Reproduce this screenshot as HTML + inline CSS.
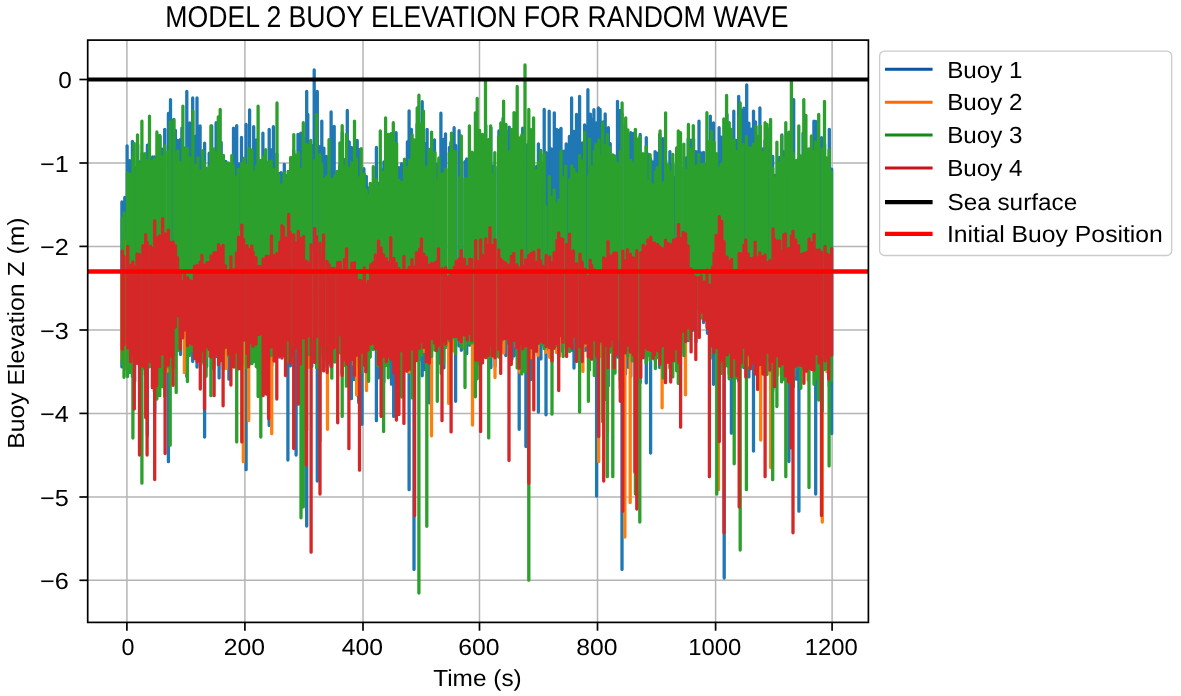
<!DOCTYPE html>
<html><head><meta charset="utf-8"><style>
html,body{margin:0;padding:0;background:#fff;}
svg{display:block;}
text{font-family:"Liberation Sans", sans-serif;fill:#000;text-rendering:geometricPrecision;}
svg{will-change:transform;}
</style></head><body>
<svg width="1181" height="696" viewBox="0 0 1181 696">
<rect width="1181" height="696" fill="#fff"/>
<defs><clipPath id="ax"><rect x="87.7" y="40.1" width="780.7" height="582.3"/></clipPath></defs>
<g stroke="#b4b4b4" stroke-width="1.5"><line x1="126.9" y1="40.1" x2="126.9" y2="622.4"/><line x1="244.9" y1="40.1" x2="244.9" y2="622.4"/><line x1="363.0" y1="40.1" x2="363.0" y2="622.4"/><line x1="479.5" y1="40.1" x2="479.5" y2="622.4"/><line x1="597.5" y1="40.1" x2="597.5" y2="622.4"/><line x1="715.6" y1="40.1" x2="715.6" y2="622.4"/><line x1="832.1" y1="40.1" x2="832.1" y2="622.4"/><line x1="87.7" y1="79.5" x2="868.4" y2="79.5"/><line x1="87.7" y1="163.0" x2="868.4" y2="163.0"/><line x1="87.7" y1="246.4" x2="868.4" y2="246.4"/><line x1="87.7" y1="330.0" x2="868.4" y2="330.0"/><line x1="87.7" y1="413.4" x2="868.4" y2="413.4"/><line x1="87.7" y1="497.0" x2="868.4" y2="497.0"/><line x1="87.7" y1="580.3" x2="868.4" y2="580.3"/></g>
<g clip-path="url(#ax)" fill="none" stroke-width="3.3" stroke-linejoin="round" stroke-linecap="round">
<path stroke="#1f77b4" d="M121.9 366.9V201.9M124.8 365.8V197.5M127.1 363.2V145.8M129.7 371.9V160.7M132.4 376.4V141.5M134.7 381.2V167.4M137.7 363.0V144.7M139.6 387.0V162.0M142.1 359.1V153.5M145.4 375.1V165.2M147.4 435.3V145.1M149.7 360.4V166.5M152.6 363.9V156.9M154.7 412.3V157.0M157.2 381.8V166.1M160.0 355.9V136.3M162.5 363.3V149.1M164.7 360.8V129.3M168.4 461.7V113.5M170.5 365.8V99.6M173.5 346.2V119.9M175.4 326.0V130.3M177.7 328.1V140.5M180.5 354.4V139.4M181.9 330.6V128.1M184.8 344.1V148.5M186.8 376.5V91.4M189.7 333.1V122.9M192.7 361.4V98.0M195.2 352.8V136.4M197.0 367.1V98.0M200.1 357.0V125.9M202.1 354.6V155.6M204.6 437.0V143.2M206.7 366.6V172.2M209.2 355.7V153.2M211.7 349.4V126.0M213.3 361.1V175.8M216.1 356.6V122.7M219.1 377.9V167.0M221.2 353.4V142.5M223.4 369.1V165.7M225.8 348.2V161.3M228.9 379.2V184.3M231.3 353.3V184.2M233.5 340.7V128.2M236.7 330.9V125.6M239.1 365.3V163.8M241.5 352.7V137.4M244.2 342.9V174.8M246.1 469.7V124.4M249.6 363.9V109.8M252.1 336.2V163.2M253.7 350.5V126.7M256.5 348.0V139.9M258.0 367.7V161.4M260.4 357.1V162.6M262.9 335.4V133.1M265.9 359.0V165.8M269.2 425.4V129.3M271.8 366.1V149.6M273.4 356.1V126.7M276.8 356.8V153.8M279.3 357.1V173.6M281.0 348.9V172.6M284.3 355.1V164.3M286.1 351.2V175.7M287.9 460.1V176.9M290.4 365.8V170.4M293.7 353.3V151.0M296.1 455.1V164.3M298.0 349.0V134.3M300.8 353.8V133.2M303.1 349.9V137.7M306.7 526.1V91.4M307.8 344.6V114.4M311.8 366.5V145.5M314.2 361.7V69.9M317.3 481.0V91.4M319.8 440.7V146.7M321.8 341.1V121.1M323.9 367.3V148.2M326.5 358.7V156.5M329.2 364.5V174.6M331.1 367.0V112.0M334.2 354.2V126.5M337.3 348.0V174.3M339.8 349.1V165.4M342.2 373.3V132.6M344.5 337.2V159.7M347.3 340.2V110.4M349.2 359.2V141.8M351.4 398.7V147.3M354.2 379.5V171.1M357.2 394.9V140.5M358.7 402.6V149.4M362.0 424.3V171.6M363.9 354.9V168.7M366.3 372.6V176.3M368.2 367.6V187.9M370.6 348.6V196.5M373.1 345.8V191.1M376.4 420.7V147.5M378.4 377.8V183.3M380.7 355.8V168.9M383.9 382.0V161.8M386.3 356.2V168.8M389.2 366.9V162.9M391.5 384.2V167.3M393.7 416.4V152.1M396.1 336.0V132.6M398.9 335.8V167.6M401.6 342.3V163.7M404.2 362.9V176.1M407.4 371.1V142.0M409.1 489.7V111.0M411.4 349.8V129.3M414.0 569.4V150.3M417.1 347.0V124.2M418.9 360.4V154.4M422.2 375.8V101.7M424.5 369.7V143.3M427.1 353.9V129.3M429.4 402.8V154.7M432.4 336.0V144.5M434.5 341.4V139.8M437.4 329.8V164.1M439.2 363.2V159.1M440.9 339.9V113.2M443.9 367.9V139.2M445.5 347.6V134.0M449.5 365.8V147.5M450.9 350.6V142.4M454.1 346.5V127.7M455.6 401.3V145.5M459.1 345.9V130.7M461.3 350.3V162.8M464.9 349.1V161.6M466.7 353.7V158.9M469.7 345.2V165.8M472.9 335.7V161.9M474.6 348.1V153.5M477.9 349.3V148.0M479.6 364.3V144.4M483.3 334.4V150.9M485.8 353.0V125.5M487.9 354.1V160.5M490.9 367.7V127.7M492.7 347.8V166.2M495.1 366.3V166.9M498.9 344.8V131.0M500.4 350.4V149.2M503.0 335.2V118.3M505.8 355.5V130.6M509.2 340.1V127.1M512.0 359.0V130.6M514.3 355.8V157.5M516.7 349.6V161.5M519.2 429.3V148.1M521.7 353.6V161.6M522.7 333.4V128.1M525.9 446.6V144.8M529.0 355.5V141.4M531.2 379.4V137.5M533.3 356.4V152.3M536.6 331.9V166.5M538.4 412.1V143.8M540.9 358.9V162.3M544.2 345.2V109.5M546.0 414.8V152.6M549.2 349.8V111.2M551.2 349.0V148.8M554.3 342.0V112.8M556.6 334.7V129.3M559.3 341.7V130.1M561.0 351.0V128.4M563.9 342.5V151.2M566.2 348.4V144.0M569.4 347.5V136.5M571.6 350.3V98.0M574.0 368.0V131.5M576.5 325.3V114.5M579.6 336.0V96.3M582.6 349.7V143.0M584.6 350.4V125.0M587.9 351.0V89.7M590.4 355.5V114.1M591.6 343.0V119.3M593.9 333.3V109.7M596.6 496.1V122.8M598.4 348.1V107.9M600.1 343.2V109.5M603.2 355.1V121.8M605.2 335.8V113.9M608.4 385.7V127.7M610.2 339.6V143.7M613.0 343.0V165.0M614.5 335.6V155.8M617.5 357.1V101.3M620.3 379.9V110.3M622.0 569.4V113.8M625.5 373.9V125.3M628.4 367.3V134.5M630.8 376.2V132.6M633.3 350.3V133.3M635.0 351.9V133.2M637.5 349.6V161.3M640.2 382.8V134.3M642.9 349.2V164.0M646.3 382.9V137.6M648.0 350.8V154.1M650.6 453.0V158.9M653.0 352.4V161.9M655.1 360.1V151.6M657.0 356.5V153.2M659.7 367.5V134.3M662.9 361.9V138.7M665.6 360.2V160.4M667.8 348.8V169.9M669.9 359.6V151.6M673.1 361.4V164.7M675.6 359.0V177.5M678.7 339.6V155.5M680.4 365.3V138.4M683.9 340.0V167.8M686.3 329.0V157.8M688.2 340.7V139.0M691.0 330.6V140.1M693.6 330.0V138.8M696.0 341.8V151.6M699.0 309.6V121.1M700.8 312.6V152.8M703.5 322.5V152.4M707.5 333.3V151.1M710.3 329.2V116.1M712.3 346.7V140.4M713.5 384.3V122.8M716.8 341.3V156.5M719.1 368.1V127.7M721.4 367.3V137.2M724.2 578.0V145.4M727.0 350.8V114.5M728.4 361.9V134.4M731.4 433.2V139.3M733.8 411.8V111.2M736.2 352.6V140.3M738.7 381.0V96.3M740.7 363.3V109.8M743.9 367.7V108.2M746.7 359.9V84.8M748.9 376.9V123.1M751.4 358.6V129.2M753.5 451.0V111.2M755.5 363.6V121.8M758.4 359.0V152.0M759.9 355.3V108.0M762.9 355.8V148.9M765.0 374.2V140.7M767.2 354.0V128.7M769.8 360.9V148.0M772.7 391.1V156.5M775.0 371.3V175.5M777.2 363.9V177.6M779.5 358.7V157.5M781.9 352.2V134.9M783.8 363.4V152.0M785.8 360.2V159.4M788.9 461.6V132.5M791.2 369.9V155.9M793.7 353.2V99.6M796.2 379.1V161.0M798.9 511.2V158.6M800.6 369.3V172.3M803.0 366.5V133.1M806.6 354.9V165.3M808.3 352.4V168.4M811.3 354.4V160.9M813.9 355.6V121.1M815.7 494.0V121.5M819.2 384.6V142.7M821.5 387.3V137.7M824.6 348.1V144.0M827.2 343.5V163.4M829.3 386.3V129.3M831.7 433.6V169.1"/>
<path stroke="#ff7f0e" d="M121.9 359.0V275.2M125.0 369.1V241.1M127.2 349.0V267.9M130.7 352.9V261.8M132.4 365.8V273.6M134.9 346.4V272.7M137.9 357.5V262.8M139.6 366.6V273.7M143.0 366.2V253.1M145.6 366.0V256.5M148.2 355.8V258.5M150.0 349.0V247.4M151.8 348.4V266.8M154.1 373.9V245.8M156.5 366.8V251.8M159.5 370.5V228.3M162.6 359.6V231.5M165.1 360.7V226.3M167.7 371.0V237.3M170.0 358.8V251.3M173.3 367.8V261.1M175.3 324.5V263.6M177.8 342.5V276.6M180.4 328.4V282.2M183.0 312.9V292.6M184.4 372.6V293.7M187.5 325.4V307.6M188.9 346.4V299.4M192.2 334.9V302.2M195.3 345.8V300.8M197.5 341.2V275.3M199.5 330.5V280.1M202.1 334.1V279.4M204.4 341.5V288.8M207.0 356.2V287.7M208.9 344.7V293.0M210.9 345.5V273.5M214.1 349.3V277.9M215.9 354.1V256.4M218.4 343.0V263.1M220.6 358.4V260.2M222.8 343.8V258.9M226.1 368.4V270.3M228.8 353.5V283.5M231.0 338.9V295.0M234.4 346.2V284.7M236.5 337.2V276.2M238.7 337.8V232.7M241.0 341.8V231.6M243.3 461.7V240.0M246.3 340.2V244.2M248.7 420.5V242.8M251.5 336.3V257.2M253.6 344.0V251.0M256.5 337.1V268.6M258.2 336.0V288.5M260.8 328.6V259.6M263.0 348.3V283.1M265.7 334.8V274.7M268.2 388.2V260.7M271.7 433.7V255.9M273.7 352.2V259.0M276.7 346.1V265.3M279.3 351.7V268.9M281.3 329.8V242.8M283.5 342.5V241.9M286.4 330.9V246.9M288.4 323.3V247.7M290.1 322.9V251.1M293.0 319.7V261.1M295.7 335.3V254.0M298.5 351.9V246.2M300.4 353.5V237.4M303.2 342.0V240.5M306.6 356.3V231.4M308.6 367.3V266.1M310.8 338.5V251.8M314.5 349.7V247.6M316.5 346.1V258.1M320.0 352.7V263.2M322.2 354.0V277.4M323.5 347.5V285.6M327.5 429.3V282.0M329.9 347.7V254.1M331.2 348.7V288.4M334.7 351.4V277.2M337.1 355.8V268.3M339.3 347.3V250.3M341.7 355.5V267.7M344.1 353.0V281.8M346.9 336.3V287.1M348.9 331.5V283.6M352.2 337.3V294.0M353.9 364.5V282.8M356.6 394.8V294.0M358.8 359.3V273.1M361.6 357.1V287.0M363.9 352.1V280.5M366.5 390.5V304.8M368.4 353.6V291.6M369.8 357.1V291.8M373.0 347.5V276.9M376.1 335.0V260.3M378.7 346.5V255.3M381.3 344.5V253.7M383.6 366.2V245.1M386.0 339.1V244.6M388.1 354.9V256.3M391.4 338.2V255.7M393.5 348.4V254.9M396.3 339.1V265.4M399.1 341.2V272.3M401.5 343.1V268.3M403.5 337.2V263.9M407.2 336.3V277.8M409.3 372.1V267.3M412.3 340.0V289.8M414.6 334.3V266.6M416.2 350.0V267.4M418.6 353.4V271.8M422.5 339.6V248.7M424.2 351.4V259.5M426.2 343.3V263.5M429.3 332.3V268.2M431.5 435.8V253.8M434.9 326.0V263.3M437.1 328.6V272.7M439.5 344.7V275.4M441.6 336.6V271.2M443.5 338.1V263.5M446.4 346.7V288.9M448.7 403.4V284.9M451.7 324.4V272.2M453.4 350.8V285.5M455.8 331.0V290.3M459.1 330.5V270.6M461.2 343.5V256.3M464.9 348.1V262.5M467.0 331.0V266.9M470.0 337.9V277.7M472.5 425.0V276.9M475.2 347.0V273.5M477.7 356.1V262.5M479.7 357.0V266.2M482.8 340.8V251.9M485.9 348.3V271.6M488.5 344.1V266.4M490.7 344.6V257.2M492.7 356.6V266.6M495.0 377.6V251.0M498.6 330.1V264.8M500.4 345.7V280.5M503.7 353.0V267.4M505.5 334.8V260.2M508.6 334.2V278.8M511.6 332.0V266.0M514.9 331.3V273.4M516.3 346.8V283.8M519.7 372.2V290.2M521.5 344.2V276.7M523.0 346.7V270.6M525.0 334.6V261.7M529.0 335.2V269.1M531.5 357.7V254.1M533.7 345.8V265.8M535.9 341.3V270.2M538.0 355.4V262.2M541.1 331.3V283.9M543.9 336.4V292.8M545.8 352.3V277.9M549.6 357.3V278.3M551.8 324.3V285.2M553.5 346.3V270.7M556.5 352.5V265.2M559.4 356.2V235.6M561.3 318.6V251.8M563.8 319.4V268.1M565.8 327.3V246.2M569.4 332.6V248.4M571.9 341.6V267.2M573.7 330.0V266.9M577.0 319.4V262.9M579.2 338.0V257.6M582.9 371.4V294.4M584.4 345.7V299.3M587.6 345.8V290.9M590.2 356.1V302.7M591.8 348.6V262.5M594.4 339.9V269.0M596.6 331.0V288.7M598.7 461.6V274.6M600.5 356.4V274.2M603.1 336.3V266.8M605.0 330.8V241.9M607.6 432.1V259.3M609.4 330.7V268.1M612.4 327.1V265.4M614.9 327.5V288.5M617.1 330.0V281.7M619.7 339.6V264.3M622.3 340.4V272.0M624.9 537.1V278.4M627.5 337.2V278.2M630.2 502.6V273.8M632.9 336.7V286.4M635.9 355.9V258.8M637.6 345.2V260.3M640.0 378.9V268.2M643.2 335.5V270.3M645.6 334.9V253.3M647.5 339.9V264.3M649.9 334.2V240.4M652.8 346.5V250.8M654.9 333.3V243.5M657.0 357.9V255.7M660.8 363.5V259.6M662.1 407.8V242.4M665.4 356.3V250.8M668.4 341.9V255.6M669.8 346.2V262.4M672.8 351.6V264.0M676.0 335.2V254.2M678.4 344.6V249.3M681.0 346.1V253.1M683.6 332.0V255.8M685.5 394.8V252.0M687.6 316.0V261.2M691.2 301.5V276.2M693.0 326.3V285.3M696.1 309.7V270.7M699.4 308.5V291.5M700.8 309.5V271.8M704.5 311.4V291.9M707.1 316.9V293.4M709.7 321.1V265.8M711.7 321.6V279.4M714.0 331.9V242.8M717.1 337.1V252.5M718.5 489.7V231.6M721.1 343.1V223.4M724.4 346.0V260.0M727.1 337.8V270.2M728.9 373.5V278.0M731.4 342.8V279.4M734.7 365.2V272.4M736.3 357.1V277.2M739.0 373.1V269.8M741.0 353.4V266.4M743.5 355.2V264.2M746.2 356.8V261.3M748.8 364.8V273.3M751.4 350.5V271.8M753.1 354.9V265.5M755.5 346.6V273.8M757.7 352.3V278.5M760.7 440.1V268.6M762.6 353.3V274.8M764.8 344.3V277.4M767.6 356.7V285.3M770.7 467.5V257.8M771.9 353.5V263.9M774.2 363.9V248.0M777.8 375.1V245.7M779.4 354.8V248.7M781.4 347.4V251.1M784.3 354.3V255.5M785.3 349.4V257.3M788.1 366.8V254.0M791.5 349.1V250.4M793.7 376.1V258.9M796.2 358.1V267.5M798.5 356.2V276.9M801.3 360.5V282.8M803.0 363.8V272.0M806.2 353.8V276.9M808.2 380.1V276.4M811.2 364.8V251.9M812.8 348.7V254.1M816.1 343.9V257.7M818.9 355.7V254.6M822.3 522.0V254.4M824.3 351.7V263.7M826.9 371.7V260.3M828.5 340.8V251.4M831.1 363.1V256.4"/>
<path stroke="#2ca02c" d="M122.4 364.0V218.3M124.0 377.3V212.8M127.5 376.6V172.9M129.9 372.3V174.2M132.9 438.1V156.7M134.1 362.5V143.5M137.5 352.5V135.0M139.6 383.1V163.5M141.9 483.2V121.1M145.0 368.9V153.6M147.5 357.8V160.7M149.5 366.8V116.1M152.6 387.4V161.4M154.3 391.6V158.8M156.9 399.0V132.0M159.8 395.7V135.5M162.5 386.7V156.8M164.7 396.4V145.7M168.1 366.9V151.8M170.2 445.2V121.9M174.0 354.4V119.4M176.2 392.4V154.2M177.8 350.5V150.8M179.9 329.7V162.6M182.9 322.2V106.2M184.7 330.3V148.2M187.4 381.5V148.4M189.5 355.4V157.7M192.9 350.8V111.2M194.8 353.5V165.1M197.9 341.1V157.8M199.6 354.0V171.0M202.8 361.8V150.7M204.1 364.5V161.8M206.1 376.3V168.4M209.1 349.3V166.7M210.9 395.7V126.0M213.8 368.5V149.0M215.9 341.5V152.9M218.3 349.5V116.8M220.2 354.3V109.5M223.4 352.5V155.4M226.1 340.9V163.4M228.5 355.8V163.0M231.8 331.7V155.6M233.4 349.7V165.7M236.7 441.9V176.8M238.2 355.2V169.4M241.7 363.8V163.5M244.2 336.8V158.2M246.5 367.4V165.3M249.1 363.9V148.5M251.9 363.7V149.9M253.8 361.6V172.3M256.3 366.5V165.8M258.1 396.6V106.2M260.8 437.0V160.3M263.6 386.5V156.6M265.7 349.8V149.6M268.7 360.2V161.8M271.2 355.4V161.1M274.0 344.7V169.3M277.0 350.6V102.9M278.6 346.4V175.0M281.7 350.4V184.9M284.1 352.4V172.8M285.9 346.5V178.6M288.1 361.7V171.5M290.7 345.7V157.4M293.8 356.7V134.6M295.3 344.1V155.0M298.5 358.3V152.5M301.0 517.8V169.3M303.3 506.9V122.7M306.6 430.5V144.3M308.4 354.7V145.7M310.7 346.6V140.5M314.5 349.7V160.7M316.5 367.6V114.5M320.0 373.9V154.7M321.8 352.4V163.8M323.4 355.8V179.1M326.5 359.9V177.0M329.0 351.6V139.7M331.8 378.2V179.1M334.8 362.0V175.7M337.0 346.8V171.4M339.9 352.8V142.8M342.2 416.4V125.6M344.9 365.5V166.6M346.4 386.2V134.3M348.3 349.1V168.0M351.5 357.1V162.7M354.5 363.3V121.1M356.4 335.2V159.0M359.4 368.3V178.0M361.2 372.4V148.6M364.2 350.3V174.2M366.1 364.4V190.0M368.6 381.3V195.6M370.2 357.0V183.4M373.3 349.5V166.6M376.1 347.5V179.7M377.9 365.9V186.5M380.3 352.3V131.0M383.6 431.5V172.2M385.6 365.6V117.8M388.3 377.8V134.4M391.0 353.1V133.6M393.3 340.5V122.7M396.6 369.3V143.3M399.1 344.3V180.4M401.7 397.0V182.4M404.5 353.2V159.2M406.4 345.3V167.4M409.5 341.0V160.1M412.1 397.9V134.6M414.5 357.8V140.0M417.2 343.3V107.9M418.9 593.1V95.2M421.5 355.3V124.0M423.5 343.8V111.2M426.8 526.3V166.8M429.1 344.9V149.3M431.6 356.6V132.1M435.0 350.2V152.6M437.3 401.3V180.1M438.9 344.3V157.9M441.2 373.3V174.4M443.6 363.7V173.7M445.8 346.2V168.9M449.3 340.8V152.8M451.5 328.6V133.1M453.5 337.6V150.9M455.5 353.9V152.0M459.5 325.3V178.1M461.3 347.1V135.9M465.0 387.5V178.7M467.4 335.1V179.2M469.4 343.8V126.0M472.0 342.9V152.1M475.4 396.8V112.8M477.2 378.8V98.3M479.6 362.1V130.3M482.4 353.6V134.3M485.5 348.1V81.5M488.7 437.9V139.5M490.6 356.8V126.0M493.3 348.3V174.3M494.8 353.4V152.6M498.6 357.0V137.0M500.8 342.4V122.9M503.6 338.1V101.1M506.0 333.2V124.4M508.3 343.2V151.8M511.2 344.2V129.3M514.0 341.7V112.6M517.2 367.9V86.4M519.4 367.4V137.9M521.8 373.9V135.0M523.4 348.6V145.5M525.0 371.7V65.0M528.8 580.2V109.5M531.1 341.0V129.7M533.6 353.1V117.8M535.9 339.4V170.3M538.6 343.4V162.1M540.7 343.7V150.5M544.2 348.5V154.0M545.8 332.4V206.7M549.4 347.0V176.7M552.0 414.2V197.5M554.2 348.4V189.8M556.3 345.5V204.1M558.8 336.4V200.1M561.0 335.3V151.1M563.1 356.6V177.9M565.7 342.1V165.8M569.5 351.6V180.0M571.8 345.5V166.0M573.8 331.6V169.5M576.3 351.2V173.7M579.6 412.1V155.3M582.8 345.8V160.7M584.6 338.3V132.6M588.4 401.3V176.5M589.5 370.0V139.0M591.5 356.1V167.1M594.3 375.5V151.3M595.8 338.5V144.4M598.9 344.1V140.0M600.4 332.4V156.5M602.7 421.8V122.7M605.4 399.4V145.8M607.3 476.7V134.3M609.5 352.6V147.1M612.8 476.7V154.8M615.0 373.2V156.5M617.0 340.0V163.3M620.3 388.5V151.4M622.1 357.7V102.9M625.7 343.3V117.8M627.9 355.7V130.0M631.0 331.1V160.3M632.3 360.9V163.9M635.4 494.0V129.3M636.9 339.6V138.8M639.8 522.0V137.1M643.0 352.3V153.6M646.1 363.1V146.5M648.1 355.4V181.1M650.1 360.4V154.6M652.5 350.7V184.8M655.4 368.6V172.2M656.9 357.3V167.7M660.1 353.2V131.0M663.0 378.1V182.9M665.6 369.2V112.8M668.3 358.0V164.9M669.9 368.1V171.7M672.8 376.9V154.3M676.6 370.8V147.9M678.3 383.4V131.0M680.5 353.4V132.6M683.9 355.7V144.1M686.4 337.8V170.5M688.4 338.5V124.4M690.4 329.4V149.4M693.3 308.8V125.6M696.6 308.6V165.8M698.8 301.8V154.5M701.9 318.1V164.7M704.0 316.6V164.1M706.9 316.3V112.7M710.2 358.4V140.7M711.5 326.1V131.5M714.2 335.9V142.4M716.8 494.0V153.6M718.5 353.3V168.7M721.1 373.4V163.8M723.8 350.4V118.9M726.6 365.8V95.5M729.2 378.8V122.6M731.0 356.4V129.3M734.2 463.8V139.7M735.9 378.0V151.3M739.0 358.5V116.8M740.2 550.0V102.9M742.8 366.4V144.3M746.4 489.7V136.7M748.5 355.1V147.7M751.5 358.4V148.0M753.4 344.0V143.9M756.1 357.8V126.5M758.0 342.0V136.3M760.3 345.3V126.0M762.7 357.3V152.6M765.1 359.3V122.7M767.1 374.4V124.4M770.6 354.8V119.4M772.7 479.7V168.4M774.9 358.7V178.1M776.9 406.5V142.1M779.7 350.4V163.0M781.6 381.9V135.9M784.0 379.4V158.2M785.8 476.7V122.7M789.2 377.6V132.2M791.4 390.7V81.5M793.4 386.7V153.7M796.7 367.1V160.4M798.8 361.1V126.0M800.8 388.3V156.0M803.8 368.4V99.6M805.9 358.9V115.3M809.0 487.5V149.0M811.4 348.4V135.9M814.0 384.3V151.4M815.6 378.2V141.9M818.7 400.1V114.5M822.3 411.1V149.0M824.5 369.5V101.3M826.5 368.6V157.9M829.1 465.9V149.8M831.4 380.6V171.9"/>
<path stroke="#d62728" d="M122.3 349.2V251.1M124.0 344.5V256.6M127.7 347.9V246.3M130.7 361.6V265.3M132.8 354.8V262.0M134.3 408.9V266.7M137.1 363.2V254.0M139.5 455.1V254.7M142.9 366.2V245.7M145.7 417.5V234.6M147.1 455.0V242.2M150.5 361.8V246.1M152.4 387.6V248.7M154.7 479.6V220.9M156.7 385.5V238.0M159.6 366.7V235.9M162.6 353.9V218.7M165.1 453.5V234.0M168.3 365.0V230.1M170.7 356.2V242.3M173.1 385.3V242.0M175.5 327.0V245.8M177.5 315.5V257.6M180.2 349.0V271.9M182.7 337.8V281.7M184.5 329.5V272.7M187.5 345.7V277.6M189.1 343.0V280.1M191.9 344.0V281.3M194.5 358.5V266.1M197.2 361.6V265.4M200.3 389.1V262.2M201.9 350.7V255.5M204.5 408.9V265.2M207.0 346.8V262.7M209.3 349.5V262.5M211.0 356.9V255.9M214.1 395.7V252.6M216.2 354.2V252.8M218.6 364.7V244.7M220.6 360.7V247.8M223.1 405.8V245.5M225.4 347.5V265.8M228.6 354.0V271.2M230.9 385.1V256.8M234.0 367.1V269.6M236.4 351.8V253.1M238.6 368.8V237.2M241.8 441.9V225.1M243.6 340.3V239.4M247.0 353.7V245.6M248.5 366.7V249.2M251.8 342.8V245.8M253.1 346.2V252.3M256.0 344.0V257.6M258.8 334.6V266.5M260.2 333.8V266.6M263.1 395.7V259.2M266.2 394.1V256.1M268.6 418.8V256.4M271.4 346.8V235.8M274.1 361.1V255.6M276.8 399.0V253.7M279.8 355.4V242.1M281.9 358.1V225.7M283.3 355.7V227.4M285.5 375.6V237.8M288.7 340.2V214.5M290.2 363.2V232.3M293.7 448.5V235.0M295.2 347.6V242.8M298.3 404.2V231.3M300.6 364.1V238.4M303.5 337.8V236.4M306.3 465.0V261.2M307.9 336.1V263.0M311.1 552.2V244.8M314.7 362.4V228.5M316.5 336.5V236.6M320.0 494.0V243.2M321.8 344.4V256.4M323.6 370.9V234.9M327.1 372.5V261.3M329.2 362.5V264.9M331.6 366.5V268.3M334.2 347.7V268.2M337.7 422.8V262.3M340.2 334.8V262.2M342.1 375.4V271.3M344.5 359.4V259.3M346.6 364.2V248.8M348.9 448.7V273.3M351.8 359.4V263.2M354.4 375.4V262.6M356.2 355.4V272.5M359.5 470.2V280.1M361.2 352.4V280.7M364.3 365.0V267.9M365.8 371.7V284.9M368.1 350.0V281.5M370.7 344.0V265.0M373.1 343.2V262.8M375.4 348.8V254.9M378.6 364.5V241.1M381.1 416.4V247.8M383.6 356.1V254.9M386.3 361.4V258.6M389.1 356.0V262.4M390.8 359.3V237.7M393.9 372.8V258.5M396.4 420.1V263.6M398.9 414.5V268.4M401.5 350.8V270.7M403.9 423.4V256.5M406.9 371.0V270.2M409.4 369.4V267.2M412.0 349.1V259.6M414.6 515.5V266.8M416.5 360.5V252.6M419.6 348.2V249.2M421.4 341.8V238.9M423.8 347.4V254.1M426.4 361.7V257.5M429.3 363.2V265.3M431.3 338.7V263.4M434.5 343.1V263.2M436.4 350.5V261.9M438.5 345.4V248.8M442.0 420.7V268.7M444.0 340.5V270.7M445.7 343.7V267.6M449.0 338.6V276.3M451.1 431.9V272.7M454.2 336.3V267.5M456.2 336.4V261.5M458.9 339.5V259.2M461.2 341.7V250.6M464.4 335.1V259.2M467.2 339.9V266.7M469.8 333.6V259.2M471.8 340.6V259.6M475.7 360.0V240.6M477.7 360.3V261.5M480.6 431.5V239.9M482.5 362.9V255.1M485.8 357.7V238.8M488.4 355.2V245.1M489.9 345.0V227.6M492.2 355.7V245.3M495.0 357.8V239.7M498.8 349.6V249.9M500.7 373.4V259.1M503.1 339.1V261.3M505.8 338.5V263.2M509.0 460.4V265.2M511.3 364.4V256.3M513.8 340.3V253.5M516.8 347.4V264.9M519.1 368.2V267.8M521.7 343.2V250.6M522.8 348.8V266.2M525.7 345.8V259.8M528.8 483.2V255.5M531.3 347.8V253.4M533.8 409.9V252.0M536.5 351.3V262.2M538.8 342.8V249.9M540.7 341.2V260.9M543.3 342.7V266.2M546.1 346.6V255.4M549.6 347.7V256.9M552.0 360.9V263.0M554.1 347.5V252.8M556.9 343.5V240.7M558.7 390.5V232.9M561.2 335.3V238.7M562.8 342.2V239.3M566.6 356.4V244.4M569.5 345.9V234.2M571.9 348.3V251.7M573.4 336.1V251.0M576.5 361.6V263.9M580.0 346.9V254.2M582.2 361.5V262.1M585.3 343.0V269.4M588.3 356.9V276.5M590.2 346.5V260.1M591.7 359.2V265.3M594.1 339.5V270.0M596.6 356.2V274.6M598.7 436.6V270.8M601.0 341.1V271.5M603.7 481.0V257.8M605.3 345.2V259.1M608.0 367.6V241.6M610.1 346.1V255.8M613.3 339.4V254.3M614.2 367.7V252.9M616.4 354.6V253.2M620.3 401.3V272.9M622.8 511.2V251.2M625.4 352.8V261.0M627.4 345.3V249.6M630.3 352.1V254.1M633.2 354.8V258.0M634.9 472.1V258.7M636.8 509.1V250.6M640.8 377.4V253.0M643.2 357.8V245.1M645.5 347.5V247.0M647.9 349.4V240.0M650.8 350.4V237.3M653.1 358.3V242.9M654.5 354.7V242.8M657.8 350.5V244.5M660.0 364.2V247.1M662.2 346.1V248.6M665.5 382.7V240.2M668.1 362.3V243.4M670.7 382.1V244.6M673.6 360.7V240.0M676.6 348.8V238.9M678.5 362.6V224.3M680.6 427.2V238.3M683.2 331.1V232.4M685.6 341.5V233.8M688.1 327.5V245.9M691.1 351.9V268.8M692.9 328.5V270.6M695.8 359.6V276.9M699.3 337.5V277.6M701.1 312.3V276.0M704.1 319.9V281.9M707.0 327.8V270.0M709.4 476.7V285.1M712.5 345.4V266.9M714.0 352.2V253.2M716.1 347.5V235.4M719.3 441.5V216.6M721.7 360.8V221.4M724.0 532.8V241.7M727.1 354.8V257.2M728.6 352.0V261.4M731.5 376.7V259.3M734.3 357.6V274.3M736.8 375.5V270.5M739.2 506.9V253.4M741.2 362.7V253.8M743.9 347.2V245.3M745.8 376.9V239.9M748.1 354.0V253.8M750.5 368.8V258.4M753.8 363.1V257.5M755.2 374.1V242.1M757.6 389.4V257.7M759.8 364.6V252.9M762.9 374.0V256.6M765.1 476.7V255.0M767.3 352.1V262.7M769.9 370.2V260.5M773.1 361.5V228.8M774.5 386.7V239.1M777.1 355.8V240.9M779.7 366.0V240.8M781.9 363.8V251.4M783.8 363.1V234.9M785.3 375.9V234.0M788.4 381.8V248.6M791.4 447.9V236.1M793.0 532.8V231.2M795.7 366.2V239.9M798.5 364.9V245.6M801.2 365.3V254.4M803.9 383.3V253.3M806.7 371.0V252.4M809.1 368.2V239.1M811.8 369.5V242.9M814.0 370.0V234.4M816.6 353.3V250.2M819.1 362.9V249.8M821.5 515.5V252.4M825.0 360.8V246.3M826.5 356.9V254.0M828.7 379.2V255.2M831.7 354.9V248.6"/>
<line x1="87.7" y1="79.5" x2="868.4" y2="79.5" stroke="#000" stroke-width="4.2"/>
<line x1="87.7" y1="271.5" x2="868.4" y2="271.5" stroke="#ff0000" stroke-width="4.3"/>
</g>
<rect x="87.7" y="40.1" width="780.7" height="582.3" fill="none" stroke="#000" stroke-width="1.7"/>
<g stroke="#000" stroke-width="1.7"><line x1="126.9" y1="622.4" x2="126.9" y2="630.7"/><line x1="244.9" y1="622.4" x2="244.9" y2="630.7"/><line x1="363.0" y1="622.4" x2="363.0" y2="630.7"/><line x1="479.5" y1="622.4" x2="479.5" y2="630.7"/><line x1="597.5" y1="622.4" x2="597.5" y2="630.7"/><line x1="715.6" y1="622.4" x2="715.6" y2="630.7"/><line x1="832.1" y1="622.4" x2="832.1" y2="630.7"/><line x1="79.4" y1="79.5" x2="87.7" y2="79.5"/><line x1="79.4" y1="163.0" x2="87.7" y2="163.0"/><line x1="79.4" y1="246.4" x2="87.7" y2="246.4"/><line x1="79.4" y1="330.0" x2="87.7" y2="330.0"/><line x1="79.4" y1="413.4" x2="87.7" y2="413.4"/><line x1="79.4" y1="497.0" x2="87.7" y2="497.0"/><line x1="79.4" y1="580.3" x2="87.7" y2="580.3"/></g>
<g font-size="23.3"><text x="121.60" y="654.90" textLength="12.97" lengthAdjust="spacingAndGlyphs">0</text><text x="223.70" y="654.90" textLength="41.29" lengthAdjust="spacingAndGlyphs">200</text><text x="341.80" y="654.90" textLength="41.29" lengthAdjust="spacingAndGlyphs">400</text><text x="458.30" y="654.90" textLength="41.29" lengthAdjust="spacingAndGlyphs">600</text><text x="576.30" y="654.90" textLength="41.29" lengthAdjust="spacingAndGlyphs">800</text><text x="688.25" y="654.90" textLength="53.10" lengthAdjust="spacingAndGlyphs">1000</text><text x="804.75" y="654.90" textLength="53.10" lengthAdjust="spacingAndGlyphs">1200</text><text x="58.35" y="87.90" textLength="13.56" lengthAdjust="spacingAndGlyphs">0</text><text x="40.02" y="171.60" textLength="28.79" lengthAdjust="spacingAndGlyphs">−1</text><text x="40.02" y="255.00" textLength="28.79" lengthAdjust="spacingAndGlyphs">−2</text><text x="40.02" y="338.60" textLength="28.79" lengthAdjust="spacingAndGlyphs">−3</text><text x="40.02" y="422.00" textLength="28.79" lengthAdjust="spacingAndGlyphs">−4</text><text x="40.02" y="505.60" textLength="28.79" lengthAdjust="spacingAndGlyphs">−5</text><text x="40.02" y="588.90" textLength="28.79" lengthAdjust="spacingAndGlyphs">−6</text></g>
<g font-size="23.3"><text x="433.20" y="686.40" textLength="88.52" lengthAdjust="spacingAndGlyphs">Time (s)</text></g>
<g font-size="23.3" transform="translate(24.3,448.83) rotate(-90)"><text x="0.00" y="0.00" textLength="231.44" lengthAdjust="spacingAndGlyphs">Buoy Elevation Z (m)</text></g>
<g font-size="30"><text x="165.33" y="26.70" textLength="623.27" lengthAdjust="spacingAndGlyphs">MODEL 2 BUOY ELEVATION FOR RANDOM WAVE</text></g>
<rect x="879.6" y="51.1" width="292.1" height="204.4" rx="5" fill="#fff" fill-opacity="0.8" stroke="#cccccc" stroke-width="1.3"/>
<g font-size="23.3"><line x1="885.0" y1="69.2" x2="932.6" y2="69.2" stroke="#0b55a3" stroke-width="3.1"/><text x="947.22" y="77.50" textLength="75.33" lengthAdjust="spacingAndGlyphs">Buoy 1</text><line x1="885.0" y1="102.2" x2="932.6" y2="102.2" stroke="#ff6a06" stroke-width="3.1"/><text x="947.22" y="109.90" textLength="75.33" lengthAdjust="spacingAndGlyphs">Buoy 2</text><line x1="885.0" y1="135.0" x2="932.6" y2="135.0" stroke="#118a16" stroke-width="3.1"/><text x="947.22" y="142.50" textLength="75.33" lengthAdjust="spacingAndGlyphs">Buoy 3</text><line x1="885.0" y1="168.0" x2="932.6" y2="168.0" stroke="#c8121a" stroke-width="3.1"/><text x="947.22" y="175.90" textLength="75.33" lengthAdjust="spacingAndGlyphs">Buoy 4</text><line x1="885.0" y1="202.1" x2="932.6" y2="202.1" stroke="#000000" stroke-width="4.1"/><text x="947.46" y="209.90" textLength="129.73" lengthAdjust="spacingAndGlyphs">Sea surface</text><line x1="885.0" y1="233.8" x2="932.6" y2="233.8" stroke="#ff0000" stroke-width="4.3"/><text x="946.98" y="242.10" textLength="215.93" lengthAdjust="spacingAndGlyphs">Initial Buoy Position</text></g>
</svg>
</body></html>
